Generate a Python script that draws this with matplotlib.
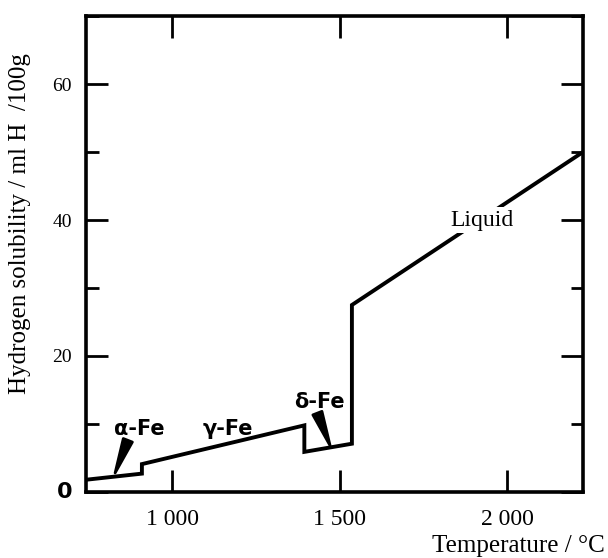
import matplotlib
matplotlib.use("Agg")
import matplotlib.pyplot as plt
from matplotlib.ticker import MultipleLocator, FixedLocator

# hydrogen solubility in iron
temps = [743, 910, 910, 1395, 1395, 1537, 1537, 2227]
solubility = [1.8, 2.7, 4.1, 9.8, 5.9, 7.1, 27.5, 50.0]

x_ticks = [1000, 1500, 2000]
x_tick_labels = ["1 000", "1 500", "2 000"]
y_ticks = [0, 20, 40, 60]
y_tick_labels = ["", "20", "40", "60"]

serif = "Liberation Serif"
label_font = dict(family="DejaVu Sans", weight="bold", size=15)

fig = plt.figure(figsize=(6.08, 5.58), dpi=100)
ax = fig.add_axes([0.1414, 0.1183, 0.8175, 0.853])

ax.plot(temps, solubility, color="black", lw=2.8, solid_joinstyle="miter")

ax.set_xlim(743, 2227)
ax.set_ylim(0, 70)

for s in ax.spines.values():
    s.set_linewidth(2.6)

ax.xaxis.set_major_locator(FixedLocator(x_ticks))
ax.set_xticklabels(x_tick_labels, family=serif, fontsize=17)
ax.yaxis.set_major_locator(FixedLocator(y_ticks))
ax.set_yticklabels(y_tick_labels, family=serif, fontsize=14)
ax.yaxis.set_minor_locator(MultipleLocator(10))
ax.tick_params(which="major", direction="in", length=16, width=2,
               top=True, right=True)
ax.tick_params(which="minor", direction="in", length=9, width=2,
               right=True)
ax.tick_params(axis="x", pad=12)
ax.tick_params(axis="y", pad=10)

# the bold sans zero at the origin
ax.text(-0.027, 0.0, "0", transform=ax.transAxes, ha="right", va="center",
        family="DejaVu Sans", weight="bold", fontsize=16)

ax.set_ylabel("Hydrogen solubility / ml H  /100g", family=serif, fontsize=18)
ax.yaxis.set_label_coords(-0.11, 0.565)
fig.text(0.995, 0.002, "Temperature / °C", family=serif, fontsize=18,
         ha="right", va="bottom")

# phase labels
ax.text(902, 9.3, "α-Fe", ha="center", va="center", **label_font)
ax.annotate("", xy=(830, 2.8), xytext=(868, 7.6),
            arrowprops=dict(arrowstyle="wedge,tail_width=0.7", color="black",
                            lw=2, shrinkA=0, shrinkB=0))
ax.text(1167, 9.2, "γ-Fe", ha="center", va="center", **label_font)
ax.text(1440, 13.2, "δ-Fe", ha="center", va="center", **label_font)
ax.annotate("", xy=(1472, 6.8), xytext=(1434, 11.6),
            arrowprops=dict(arrowstyle="wedge,tail_width=0.7", color="black",
                            lw=2, shrinkA=0, shrinkB=0))
ax.text(1925, 40, "Liquid", ha="center", va="center", family=serif,
        fontsize=17, bbox=dict(facecolor="white", edgecolor="none", pad=2))

fig.savefig("out.png", dpi=100)
